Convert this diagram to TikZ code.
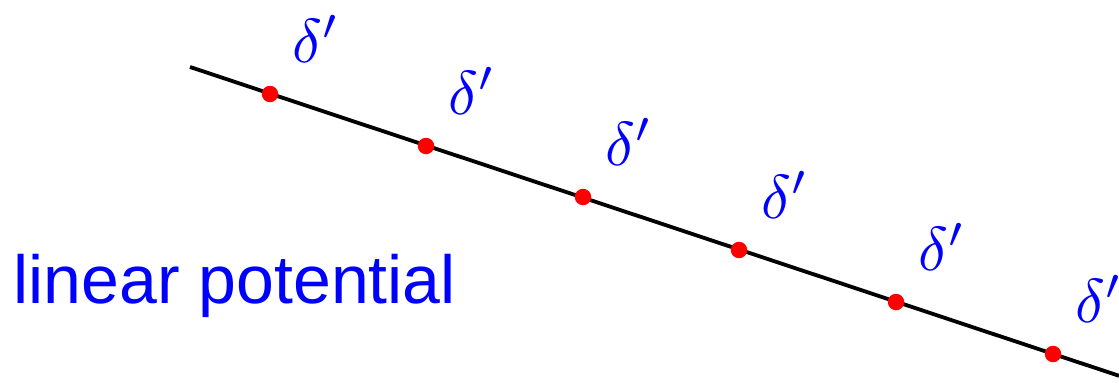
\documentclass[tikz,border=0pt]{standalone}
\usepackage{graphicx}
\usepackage{fontspec}
\setmainfont{Liberation Sans}
\newcommand{\bigdelta}{\scalebox{6.2}{$\delta'$}}
\begin{document}
\begin{tikzpicture}[x=1pt,y=-1pt,
  dotmark/.style={circle,fill=red,inner sep=0pt,minimum size=16.5pt},
  dlabel/.style={text=blue,inner sep=0pt,anchor=base west},
  potline/.style={line width=3.8pt}]
\useasboundingbox (0,0) rectangle (1119,383);
\coordinate (s) at (190,67);
\coordinate (e) at (1119,375.8);
\draw[potline] (s) -- (e);
\foreach \i/\x/\y in {1/270/94,2/426/146,3/583/197,4/739/250,5/896/302,6/1053/354}{
  \node[dotmark] (d\i) at (\x,\y) {};
  \node[dlabel] (l\i) at ([shift={(22,-32)}]d\i.center) {\bigdelta};
}
\node[text=blue,font=\fontsize{68}{68}\selectfont,inner sep=0pt,anchor=base west] (lp) at (13.5,303) {linear potential};
\end{tikzpicture}
\end{document}
